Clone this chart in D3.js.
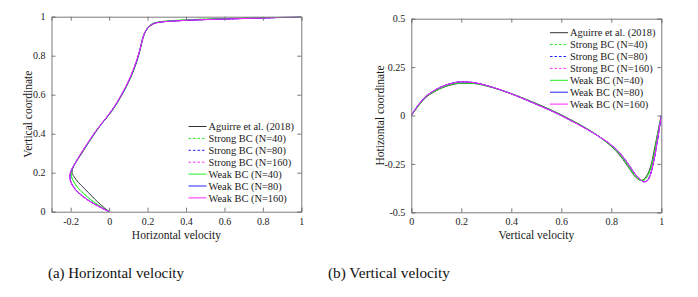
<!DOCTYPE html>
<html>
<head>
<meta charset="utf-8">
<script src="https://cdn.jsdelivr.net/npm/d3@7"></script>
<style>
body{margin:0;background:#fff;}
</style>
</head>
<body>
<div class="canvas"></div>
<script>
const W=698,H=297,FONT='"Liberation Serif"';

// (a) horizontal velocity profile, y = vertical coordinate
const yA=[0,0.02,0.05,0.08,0.1,0.12,0.15,0.18,0.2,0.22,0.25,0.3,0.35,0.4,0.45,0.5,0.55,0.6,0.65,0.7,0.75,0.8,0.85,0.9,0.93,0.95,0.96,0.97,0.975,0.98,0.985,0.99,0.995,1];
const uAguirre=[0,-0.025,-0.06,-0.09,-0.11,-0.13,-0.16,-0.183,-0.193,-0.19,-0.175,-0.142,-0.11,-0.076,-0.04,0.002,0.037,0.067,0.094,0.117,0.137,0.153,0.166,0.179,0.193,0.21,0.224,0.252,0.29,0.37,0.48,0.66,0.84,1];
const uN40=[0,-0.035,-0.08,-0.118,-0.14,-0.16,-0.182,-0.196,-0.198,-0.192,-0.176,-0.144,-0.111,-0.077,-0.04,0.001,0.036,0.066,0.093,0.116,0.136,0.152,0.166,0.178,0.192,0.206,0.218,0.24,0.27,0.33,0.42,0.58,0.78,1];
const uN80=[0,-0.04,-0.095,-0.138,-0.162,-0.18,-0.198,-0.204,-0.201,-0.193,-0.176,-0.145,-0.112,-0.078,-0.04,0,0.035,0.065,0.092,0.115,0.135,0.152,0.165,0.178,0.192,0.208,0.222,0.25,0.29,0.37,0.49,0.67,0.85,1];
const uN160=[0,-0.041,-0.096,-0.14,-0.164,-0.181,-0.199,-0.205,-0.202,-0.193,-0.176,-0.146,-0.113,-0.079,-0.041,-0.001,0.034,0.064,0.091,0.114,0.134,0.151,0.165,0.178,0.192,0.208,0.222,0.25,0.29,0.37,0.49,0.67,0.85,1];

// (b) vertical velocity profile along horizontal coordinate
const xB=[0,0.02,0.05,0.1,0.15,0.2,0.25,0.3,0.4,0.5,0.6,0.65,0.7,0.75,0.8,0.84,0.87,0.9,0.92,0.93,0.94,0.95,0.96,0.97,0.98,0.99,1];
const vAguirre=[0,0.035,0.083,0.128,0.155,0.166,0.165,0.153,0.113,0.062,0.004,-0.03,-0.066,-0.108,-0.16,-0.215,-0.27,-0.322,-0.335,-0.33,-0.315,-0.29,-0.25,-0.19,-0.125,-0.06,0];
const vN40=[0,0.036,0.085,0.13,0.158,0.168,0.166,0.153,0.112,0.06,0.002,-0.032,-0.067,-0.108,-0.158,-0.21,-0.264,-0.318,-0.335,-0.334,-0.322,-0.3,-0.265,-0.21,-0.14,-0.07,0];
const vN80=[0,0.04,0.088,0.135,0.162,0.174,0.17,0.155,0.112,0.058,0,-0.034,-0.069,-0.108,-0.153,-0.203,-0.255,-0.31,-0.335,-0.342,-0.34,-0.325,-0.29,-0.235,-0.165,-0.085,0];
const vN160=[0,0.04,0.088,0.135,0.162,0.174,0.17,0.155,0.112,0.058,0,-0.034,-0.069,-0.108,-0.153,-0.203,-0.255,-0.31,-0.335,-0.343,-0.341,-0.326,-0.29,-0.235,-0.165,-0.085,0];

const legendNames=["Aguirre et al. (2018)","Strong BC (N=40)","Strong BC (N=80)","Strong BC (N=160)","Weak BC (N=40)","Weak BC (N=80)","Weak BC (N=160)"];
const colors=["#333333","#22ee22","#2222ff","#ff33ff","#22ee22","#2222ff","#ff22ff"];
const dashed=[false,true,true,true,false,false,false];

const xTicksA=[-0.2,0,0.2,0.4,0.6,0.8,1], yTicksA=[0,0.2,0.4,0.6,0.8,1];
const xTicksB=[0,0.2,0.4,0.6,0.8,1], yTicksB=[-0.5,-0.25,0,0.25,0.5];

const svg=d3.select(".canvas").append("svg").attr("width",W).attr("height",H);

function panel(o){
  const x=d3.scaleLinear().domain(o.xDom).range([o.left,o.right]);
  const y=d3.scaleLinear().domain(o.yDom).range([o.bottom,o.top]);
  const g=svg.append("g");
  const fmt=d=>String(d);
  const axes=[
    [d3.axisBottom(x).tickValues(o.xT).tickSize(-4).tickPadding(6).tickFormat(fmt),`translate(0,${o.bottom})`],
    [d3.axisTop(x).tickValues(o.xT).tickSize(-4).tickFormat(""),`translate(0,${o.top})`],
    [d3.axisLeft(y).tickValues(o.yT).tickSize(-4).tickPadding(6).tickFormat(fmt),`translate(${o.left},0)`],
    [d3.axisRight(y).tickValues(o.yT).tickSize(-4).tickFormat(""),`translate(${o.right},0)`]
  ];
  const clip="clip"+o.id;
  svg.append("clipPath").attr("id",clip).append("rect")
    .attr("x",o.left).attr("y",o.top).attr("width",o.right-o.left).attr("height",o.bottom-o.top);
  const lg=g.append("g").attr("clip-path",`url(#${clip})`);
  o.series.forEach((s,i)=>{
    const pts=o.horiz ? o.grid.map((yy,k)=>[s[k],yy]) : o.grid.map((xx,k)=>[xx,s[k]]);
    const line=d3.line().x(d=>x(d[0])).y(d=>y(d[1]))
      .curve(o.horiz?d3.curveMonotoneY:d3.curveMonotoneX);
    lg.append("path").attr("d",line(pts)).attr("fill","none")
      .attr("stroke",colors[i]).attr("stroke-width",1)
      .attr("stroke-dasharray",dashed[i]?"2.5,2":null);
  });
  axes.forEach(a=>{
    const ag=g.append("g").attr("transform",a[1]).call(a[0]);
    ag.selectAll("path,line").attr("stroke","#7a7a7a");
    ag.selectAll("text").style("font-family",FONT).style("font-size","10px").attr("fill","#1a1a1a");
  });
  g.append("text").attr("x",(o.left+o.right)/2).attr("y",o.bottom+27)
    .attr("text-anchor","middle").style("font-family",FONT).style("font-size","11.5px").attr("fill","#1a1a1a").text(o.xLabel);
  g.append("text").attr("transform",`translate(${o.yLabelX},${(o.top+o.bottom)/2}) rotate(-90)`)
    .attr("text-anchor","middle").style("font-family",FONT).style("font-size","11.5px").attr("fill","#1a1a1a").text(o.yLabel);
  legendNames.forEach((n,i)=>{
    const yy=o.legY+i*11.9;
    g.append("line").attr("x1",o.legX).attr("x2",o.legX+18).attr("y1",yy).attr("y2",yy)
      .attr("stroke",colors[i]).attr("stroke-width",1).attr("stroke-dasharray",dashed[i]?"2.5,2":null);
    g.append("text").attr("x",o.legX+20).attr("y",yy+3.6).style("font-family",FONT).style("font-size","10.4px")
      .attr("fill","#1a1a1a").text(n);
  });
  g.append("text").attr("x",o.capX).attr("y",278).attr("textLength",o.capW).attr("lengthAdjust","spacingAndGlyphs")
    .style("font-family",FONT).style("font-size","15px").attr("fill","#111").text(o.caption);
}

panel({id:"a",left:51.5,right:301.3,top:16.7,bottom:211.7,xDom:[-0.3,1],yDom:[0,1],xT:xTicksA,yT:yTicksA,
  horiz:true,grid:yA,series:[uAguirre,uN40,uN80,uN160,uN40,uN80,uN160],
  xLabel:"Horizontal velocity",yLabel:"Vertical coordinate",yLabelX:32,legX:188.5,legY:126.5,
  caption:"(a) Horizontal velocity",capX:48,capW:136});
panel({id:"b",left:411.3,right:661.3,top:18.7,bottom:212.3,xDom:[0,1],yDom:[-0.5,0.5],xT:xTicksB,yT:yTicksB,
  horiz:false,grid:xB,series:[vAguirre,vN40,vN80,vN160,vN40,vN80,vN160],
  xLabel:"Vertical velocity",yLabel:"Hotizontal coordinate",yLabelX:384,legX:550,legY:32.7,
  caption:"(b) Vertical velocity",capX:328,capW:122});
</script>
</body>
</html>
